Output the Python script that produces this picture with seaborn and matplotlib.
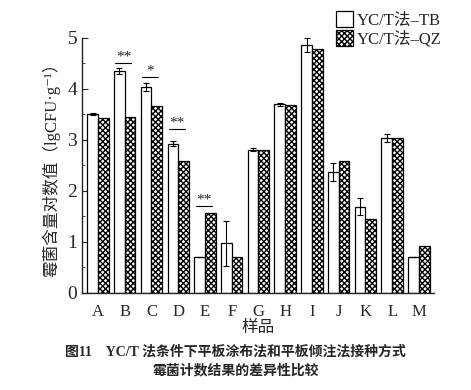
import numpy as np
import pandas as pd
import matplotlib
matplotlib.use('Agg')
import matplotlib.pyplot as plt
import seaborn as sns

samples = ['A', 'B', 'C', 'D', 'E', 'F', 'G', 'H', 'I', 'J', 'K', 'L', 'M']
tb_values = [3.51, 4.35, 4.04, 2.92, 0.70, 0.97, 2.81, 3.70, 4.86, 2.37, 1.69, 3.04, 0.71]
tb_errors = [0.02, 0.06, 0.08, 0.05, 0.0, 0.44, 0.03, 0.03, 0.13, 0.17, 0.17, 0.08, 0.0]
qz_values = [3.43, 3.45, 3.67, 2.59, 1.57, 0.70, 2.81, 3.69, 4.78, 2.58, 1.45, 3.03, 0.92]
series = ['YC/T法–TB', 'YC/T法–QZ']

# significance marks: sample, label, line height
sig_samples = ['B', 'C', 'D', 'E']
sig_labels = ['**', '*', '**', '**']
sig_heights = [4.51, 4.24, 3.22, 1.71]

df = pd.DataFrame({
    'sample': samples * 2,
    'value': tb_values + qz_values,
    'method': [series[0]] * len(samples) + [series[1]] * len(samples),
})

sns.set_style('ticks')
plt.rcParams['font.family'] = ['Liberation Serif', 'Noto Sans CJK SC', 'DejaVu Sans']
plt.rcParams['hatch.linewidth'] = 1.0
plt.rcParams['axes.linewidth'] = 1.0

fig = plt.figure(figsize=(4.71, 3.90), dpi=100)
ax = fig.add_axes([0.174, 0.249, 0.747, 0.654])

sns.barplot(data=df, x='sample', y='value', hue='method', ax=ax,
            palette=['white', 'white'], edgecolor='black', linewidth=0.9,
            width=0.8, legend=True)

n = len(samples)
patches = [p for p in ax.patches if p.get_height() > 0][:2 * n]
for p in patches[n:]:
    p.set_hatch('xxxxxx')

# error bars on TB bars
xs = [p.get_x() + p.get_width() / 2 for p in patches[:n]]
ax.errorbar(xs, tb_values, yerr=tb_errors, fmt='none', ecolor='black',
            elinewidth=0.8, capsize=2.5, capthick=0.8)

# significance lines
for s, lab, h in zip(sig_samples, sig_labels, sig_heights):
    i = samples.index(s)
    ax.plot([i - 0.35, i + 0.25], [h, h], color='black', lw=0.8)
    ax.text(i - 0.05, h - 0.02, lab, ha='center', va='bottom', fontsize=11)

ax.set_xlim(-0.6, n - 0.44)
ax.set_ylim(0, 5)
ax.set_yticks([0, 1, 2, 3, 4, 5])
ax.set_yticks(np.arange(0.5, 5, 1.0), minor=True)
ax.tick_params(axis='y', which='major', direction='in', length=4, labelsize=14)
ax.tick_params(axis='y', which='minor', direction='in', length=2)
ax.tick_params(axis='x', direction='in', length=0, labelsize=12, pad=8)
ax.set_xlabel('样品', fontsize=12, labelpad=0)
ax.set_ylabel('霉菌含量对数值（lgCFU·g⁻¹）', fontsize=12, labelpad=5)
sns.despine(ax=ax)

leg = ax.legend(loc='upper right', bbox_to_anchor=(1.04, 1.13), frameon=False,
                fontsize=12, handlelength=1.0, handleheight=1.1,
                handletextpad=0.2, labelspacing=0.05, borderaxespad=0)
handles = leg.legend_handles
handles[0].set_facecolor('white')
handles[0].set_edgecolor('black')
handles[1].set_facecolor('white')
handles[1].set_edgecolor('black')
handles[1].set_hatch('xxxxxx')

fig.text(0.50, 0.098, '图11　YC/T 法条件下平板涂布法和平板倾注法接种方式',
         ha='center', va='center', fontsize=10, fontweight='bold')
fig.text(0.50, 0.050, '霉菌计数结果的差异性比较',
         ha='center', va='center', fontsize=10, fontweight='bold')

fig.savefig('out.png', dpi=100)
